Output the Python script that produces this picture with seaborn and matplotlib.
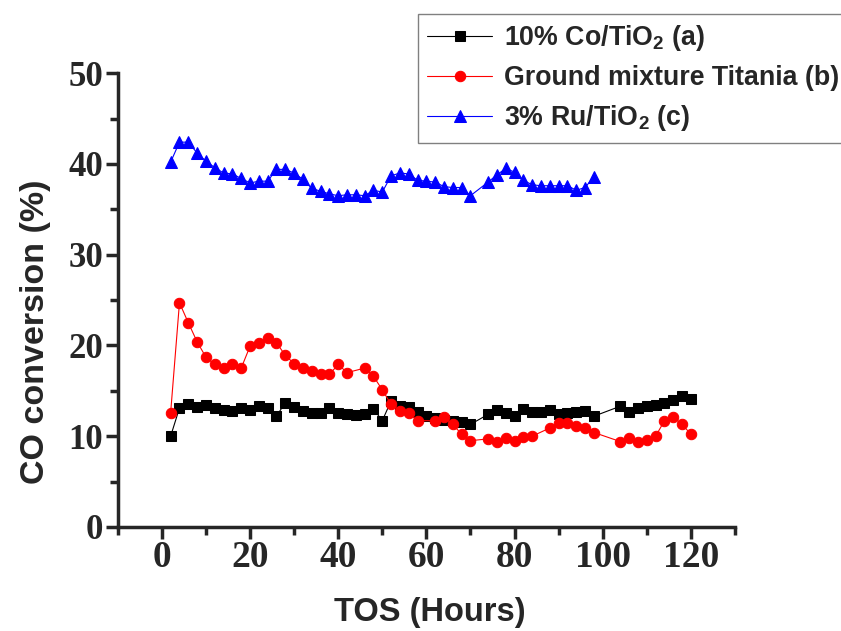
import matplotlib
matplotlib.use("Agg")
import matplotlib.pyplot as plt
from matplotlib.ticker import MultipleLocator
import seaborn as sns
import pandas as pd

# 10% Co/TiO2 (a)
co_hours = [2, 4, 6, 8, 10, 12, 14, 16, 18, 20, 22, 24, 26, 28, 30, 32, 34, 36, 38, 40,
            42, 44, 46, 48, 50, 52, 54, 56, 58, 60, 62, 64, 66, 68, 70,
            74, 76, 78, 80, 82, 84, 86, 88, 90, 92, 94, 96, 98,
            104, 106, 108, 110, 112, 114, 116, 118, 120]
co_conv = [10.0, 13.1, 13.5, 13.2, 13.4, 13.1, 12.9, 12.8, 13.1, 12.9, 13.3, 13.1, 12.2, 13.7, 13.2, 12.8, 12.6, 12.6, 13.1, 12.6,
           12.4, 12.3, 12.4, 13.0, 11.7, 13.9, 13.3, 13.2, 12.7, 12.2, 12.0, 11.8, 11.7, 11.6, 11.3,
           12.4, 12.9, 12.6, 12.2, 13.0, 12.7, 12.7, 12.9, 12.4, 12.6, 12.7, 12.8, 12.2,
           13.3, 12.7, 13.1, 13.3, 13.4, 13.7, 14.0, 14.4, 14.1]

# Ground mixture Titania (b)
gm_hours = [2, 4, 6, 8, 10, 12, 14, 16, 18, 20, 22, 24, 26, 28, 30, 32, 34, 36, 38, 40,
            42, 46, 48, 50, 52, 54, 56, 58, 62, 64, 66, 68, 70,
            74, 76, 78, 80, 82, 84, 88, 90, 92, 94, 96, 98,
            104, 106, 108, 110, 112, 114, 116, 118, 120]
gm_conv = [12.6, 24.7, 22.5, 20.4, 18.7, 17.9, 17.5, 18.0, 17.5, 19.9, 20.3, 20.8, 20.3, 18.9, 18.0, 17.5, 17.2, 16.8, 16.8, 17.9,
           17.0, 17.5, 16.6, 15.1, 13.5, 12.8, 12.5, 11.7, 11.7, 12.1, 11.3, 10.2, 9.5,
           9.7, 9.4, 9.8, 9.5, 9.9, 10.0, 10.9, 11.5, 11.5, 11.1, 10.9, 10.4,
           9.4, 9.8, 9.3, 9.6, 10.0, 11.7, 12.1, 11.3, 10.2]

# 3% Ru/TiO2 (c)
ru_hours = [2, 4, 6, 8, 10, 12, 14, 16, 18, 20, 22, 24, 26, 28, 30, 32, 34, 36, 38, 40,
            42, 44, 46, 48, 50, 52, 54, 56, 58, 60, 62, 64, 66, 68, 70,
            74, 76, 78, 80, 82, 84, 86, 88, 90, 92, 94, 96, 98]
ru_conv = [40.2, 42.4, 42.4, 41.2, 40.3, 39.6, 39.0, 38.9, 38.4, 37.9, 38.1, 38.1, 39.4, 39.4, 39.0, 38.3, 37.3, 37.0, 36.7, 36.5,
           36.6, 36.6, 36.5, 37.1, 36.9, 38.7, 39.0, 38.9, 38.2, 38.1, 38.0, 37.5, 37.4, 37.4, 36.5,
           38.0, 38.8, 39.5, 39.1, 38.2, 37.7, 37.6, 37.6, 37.6, 37.6, 37.1, 37.4, 38.6]

labels = ["10% Co/TiO$_2$ (a)", "Ground mixture Titania (b)", "3% Ru/TiO$_2$ (c)"]
colors = ["black", "red", "blue"]
markers = ["s", "o", "^"]
msizes = [7, 7.5, 8]

sns.set_style("ticks")
plt.rcParams["font.family"] = ["Liberation Sans", "DejaVu Sans"]
plt.rcParams["mathtext.default"] = "regular"

fig = plt.figure(figsize=(8.41, 6.31), dpi=100)
ax = fig.add_axes([0.140, 0.165, 0.734, 0.719])

series = [(co_hours, co_conv), (gm_hours, gm_conv), (ru_hours, ru_conv)]
for (hx, hy), lab, c, m, ms in zip(series, labels, colors, markers, msizes):
    df = pd.DataFrame({"TOS": hx, "CO": hy})
    sns.lineplot(data=df, x="TOS", y="CO", ax=ax, color=c, marker=m, markersize=ms,
                 markeredgecolor=c, linewidth=0.8, label=lab, sort=False)

ax.set_xlim(-10, 130)
ax.set_ylim(0, 50)
ax.xaxis.set_major_locator(MultipleLocator(20))
ax.xaxis.set_minor_locator(MultipleLocator(10))
ax.yaxis.set_major_locator(MultipleLocator(10))
ax.yaxis.set_minor_locator(MultipleLocator(5))
ax.set_xticks(range(0, 121, 20))

for s in ["top", "right"]:
    ax.spines[s].set_visible(False)
for s in ["left", "bottom"]:
    ax.spines[s].set_linewidth(2.5)
ax.tick_params(which="major", direction="out", length=8.5, width=2.5)
ax.tick_params(which="minor", direction="out", length=6, width=2.5)
ax.tick_params(axis="x", which="major", pad=1)
ax.tick_params(axis="y", which="major", pad=2)

for t in ax.get_xticklabels():
    t.set_fontfamily("Liberation Serif")
    t.set_fontweight("bold")
    t.set_fontsize(27)
for t in ax.get_yticklabels():
    t.set_fontfamily("Liberation Serif")
    t.set_fontweight("bold")
    t.set_fontsize(25)

ax.set_xlabel("TOS (Hours)", fontsize=23.5, fontweight="bold")
ax.set_ylabel("CO conversion (%)", fontsize=24.5, fontweight="bold")
ax.xaxis.set_label_coords(0.505, -0.155)
ax.yaxis.set_label_coords(-0.108, 0.43)

# legend box runs off the right edge, as in the original
leg = ax.legend(loc="upper left", bbox_to_anchor=(0.497, 0.978), bbox_transform=fig.transFigure,
                frameon=True, fancybox=False, framealpha=1, edgecolor="gray",
                prop={"weight": "bold", "size": 19.3}, handlelength=2.4,
                borderpad=0.35, labelspacing=0.45, handletextpad=0.45, borderaxespad=0)
leg.get_frame().set_linewidth(1.0)

fig.savefig("out.png", dpi=100)
